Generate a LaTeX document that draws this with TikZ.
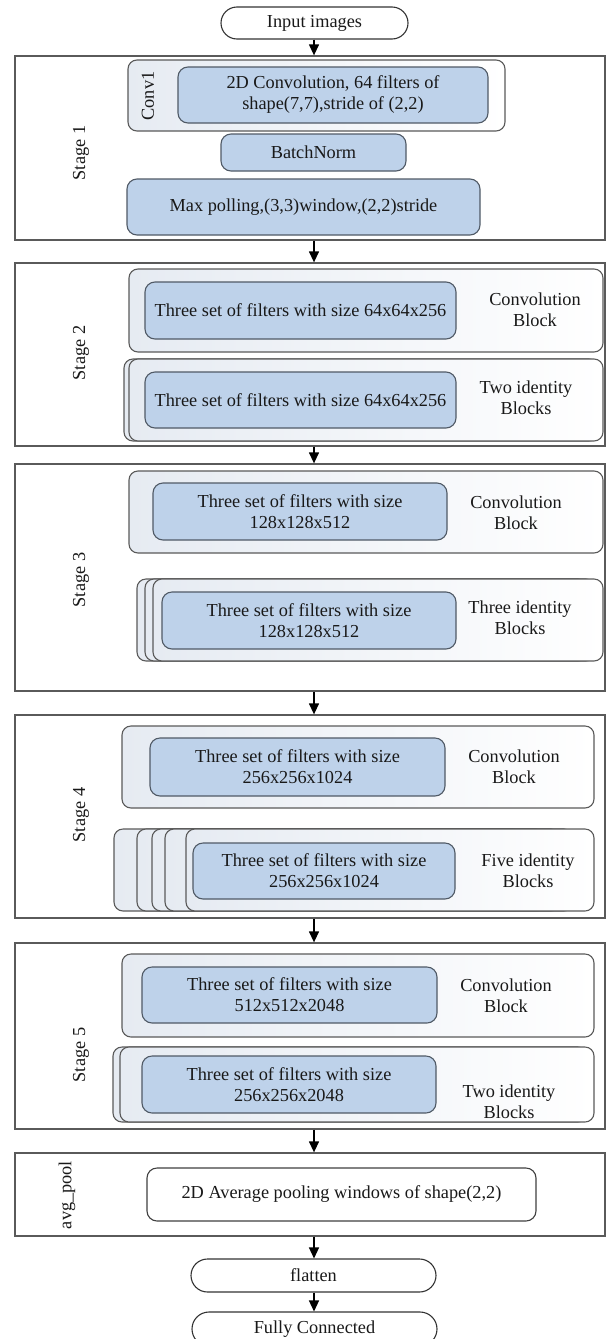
\documentclass[tikz,border=0pt]{standalone}
\usepackage{fontspec}
\setmainfont{Liberation Serif}
\usetikzlibrary{shapes.misc,arrows.meta,calc}
\definecolor{blueF}{RGB}{190,210,234}
\definecolor{blueD}{RGB}{80,90,102}
\definecolor{contL}{RGB}{230,235,242}
\definecolor{lineG}{RGB}{90,90,90}
\tikzset{
  txt/.style={font=\fontsize{18.3}{21}\selectfont, text=black!90},
  stagebox/.style={draw=lineG, line width=1.3pt, fill=white, inner sep=0pt},
  contbox/.style={draw=lineG, line width=1.1pt, rounded corners=9pt, left color=contL, right color=white, inner sep=0pt},
  bluebox/.style={draw=blueD, line width=1.1pt, rounded corners=10pt, fill=blueF, inner sep=0pt, txt, align=center},
  termbox/.style={rounded rectangle, draw=black!80, line width=1.1pt, fill=white, inner sep=0pt, txt},
  whitebox/.style={draw=black!75, line width=1.1pt, rounded corners=10pt, fill=white, inner sep=0pt, txt},
  sidelbl/.style={txt, align=center},
  rotlbl/.style={txt, rotate=90},
  arr/.style={-{Triangle[length=11pt,width=10pt]}, line width=1.3pt, black}
}
\newcommand{\boxat}[6]{% style, name, x1, y1, x2, y2 -> node
  \node[#1, minimum width={#5-#3}, minimum height={#6-#4}] (#2) at ({(#3+#5)/2},{(#4+#6)/2})}
\newcommand{\backbox}[4]{% x1 y1 x2 y2
  \draw[contbox] (#1,#2) rectangle (#3,#4);}
\begin{document}
\begin{tikzpicture}[x=1pt,y=-1pt]
\useasboundingbox (0,0) rectangle (606,1339);
\clip (0,0) rectangle (606,1339);
\coordinate (ax) at (314,0);

% input
\boxat{termbox}{in}{221}{7}{408}{39} {Input images};

% Stage 1
\boxat{stagebox}{s1}{15}{56}{605}{240} {};
\boxat{contbox}{c1}{128}{60}{505}{131} {};
\boxat{bluebox}{conv}{178}{67}{488}{123} {2D Convolution, 64 filters of\\shape(7,7),stride of (2,2)};
\node[rotlbl] (c1l) at (148,96) {Conv1};
\boxat{bluebox}{bn}{221}{134}{406}{171} {BatchNorm};
\boxat{bluebox}{mp}{127}{179}{480}{235} {Max polling,(3,3)window,(2,2)stride};
\node[rotlbl] (s1l) at (81,153) {Stage 1};

% Stage 2
\boxat{stagebox}{s2}{15}{263}{605}{446} {};
\boxat{contbox}{c2}{129}{269}{603}{352} {};
\boxat{bluebox}{b2a}{145}{282}{456}{339} {Three set of filters with size 64x64x256};
\node[sidelbl] (l2a) at (535,310) {Convolution\\Block};
\backbox{124}{359}{598}{441}
\boxat{contbox}{i2}{129}{359}{603}{441} {};
\boxat{bluebox}{b2b}{145}{372}{456}{428} {Three set of filters with size 64x64x256};
\node[sidelbl] (l2b) at (526,398) {Two identity\\Blocks};
\node[rotlbl] (s2l) at (81,353) {Stage 2};

% Stage 3
\boxat{stagebox}{s3}{15}{464}{605}{691} {};
\boxat{contbox}{c3}{129}{471}{603}{553} {};
\boxat{bluebox}{b3a}{153}{483}{447}{540} {Three set of filters with size\\128x128x512};
\node[sidelbl] (l3a) at (516,513) {Convolution\\Block};
\backbox{137}{579}{587}{661}
\backbox{145}{579}{595}{661}
\boxat{contbox}{i3}{153}{579}{603}{661} {};
\boxat{bluebox}{b3b}{162}{592}{456}{649} {Three set of filters with size\\128x128x512};
\node[sidelbl] (l3b) at (520,618) {Three identity\\Blocks};
\node[rotlbl] (s3l) at (81,580) {Stage 3};

% Stage 4
\boxat{stagebox}{s4}{15}{715}{605}{918} {};
\boxat{contbox}{c4}{122}{726}{594}{808} {};
\boxat{bluebox}{b4a}{150}{738}{445}{796} {Three set of filters with size\\256x256x1024};
\node[sidelbl] (l4a) at (514,767) {Convolution\\Block};
\backbox{114}{829}{522}{911}
\backbox{137}{829}{545}{911}
\backbox{152}{829}{560}{911}
\backbox{165}{829}{573}{911}
\boxat{contbox}{i4}{186}{829}{594}{911} {};
\boxat{bluebox}{b4b}{193}{843}{455}{899} {Three set of filters with size\\256x256x1024};
\node[sidelbl] (l4b) at (528,871) {Five identity\\Blocks};
\node[rotlbl] (s4l) at (81,815) {Stage 4};

% Stage 5
\boxat{stagebox}{s5}{15}{943}{605}{1129} {};
\boxat{contbox}{c5}{122}{954}{594}{1037} {};
\boxat{bluebox}{b5a}{142}{967}{437}{1023} {Three set of filters with size\\512x512x2048};
\node[sidelbl] (l5a) at (506,996) {Convolution\\Block};
\backbox{113}{1047}{587}{1122}
\boxat{contbox}{i5}{120}{1047}{594}{1122} {};
\boxat{bluebox}{b5b}{142}{1056}{436}{1113} {Three set of filters with size\\256x256x2048};
\node[sidelbl] (l5b) at (509,1102) {Two identity\\Blocks};
\node[rotlbl] (s5l) at (81,1055) {Stage 5};

% avg pool
\boxat{stagebox}{ap}{15}{1153}{605}{1236} {};
\boxat{whitebox}{apin}{147}{1168}{536}{1221} {2D Average pooling windows of shape(2,2)};
\node[rotlbl] (apl) at (67,1195) {avg\_pool};

% flatten, FC
\boxat{termbox}{fl}{191}{1259}{436}{1292} {flatten};
\boxat{termbox}{fc}{192}{1312}{437}{1346} {Fully Connected};

% arrows
\draw[arr] (ax |- in.south) -- (ax |- s1.north);
\draw[arr] (ax |- s1.south) -- (ax |- s2.north);
\draw[arr] (ax |- s2.south) -- (ax |- s3.north);
\draw[arr] (ax |- s3.south) -- (ax |- s4.north);
\draw[arr] (ax |- s4.south) -- (ax |- s5.north);
\draw[arr] (ax |- s5.south) -- (ax |- ap.north);
\draw[arr] (ax |- ap.south) -- (ax |- fl.north);
\draw[arr] (ax |- fl.south) -- (ax |- fc.north);
\end{tikzpicture}
\end{document}
